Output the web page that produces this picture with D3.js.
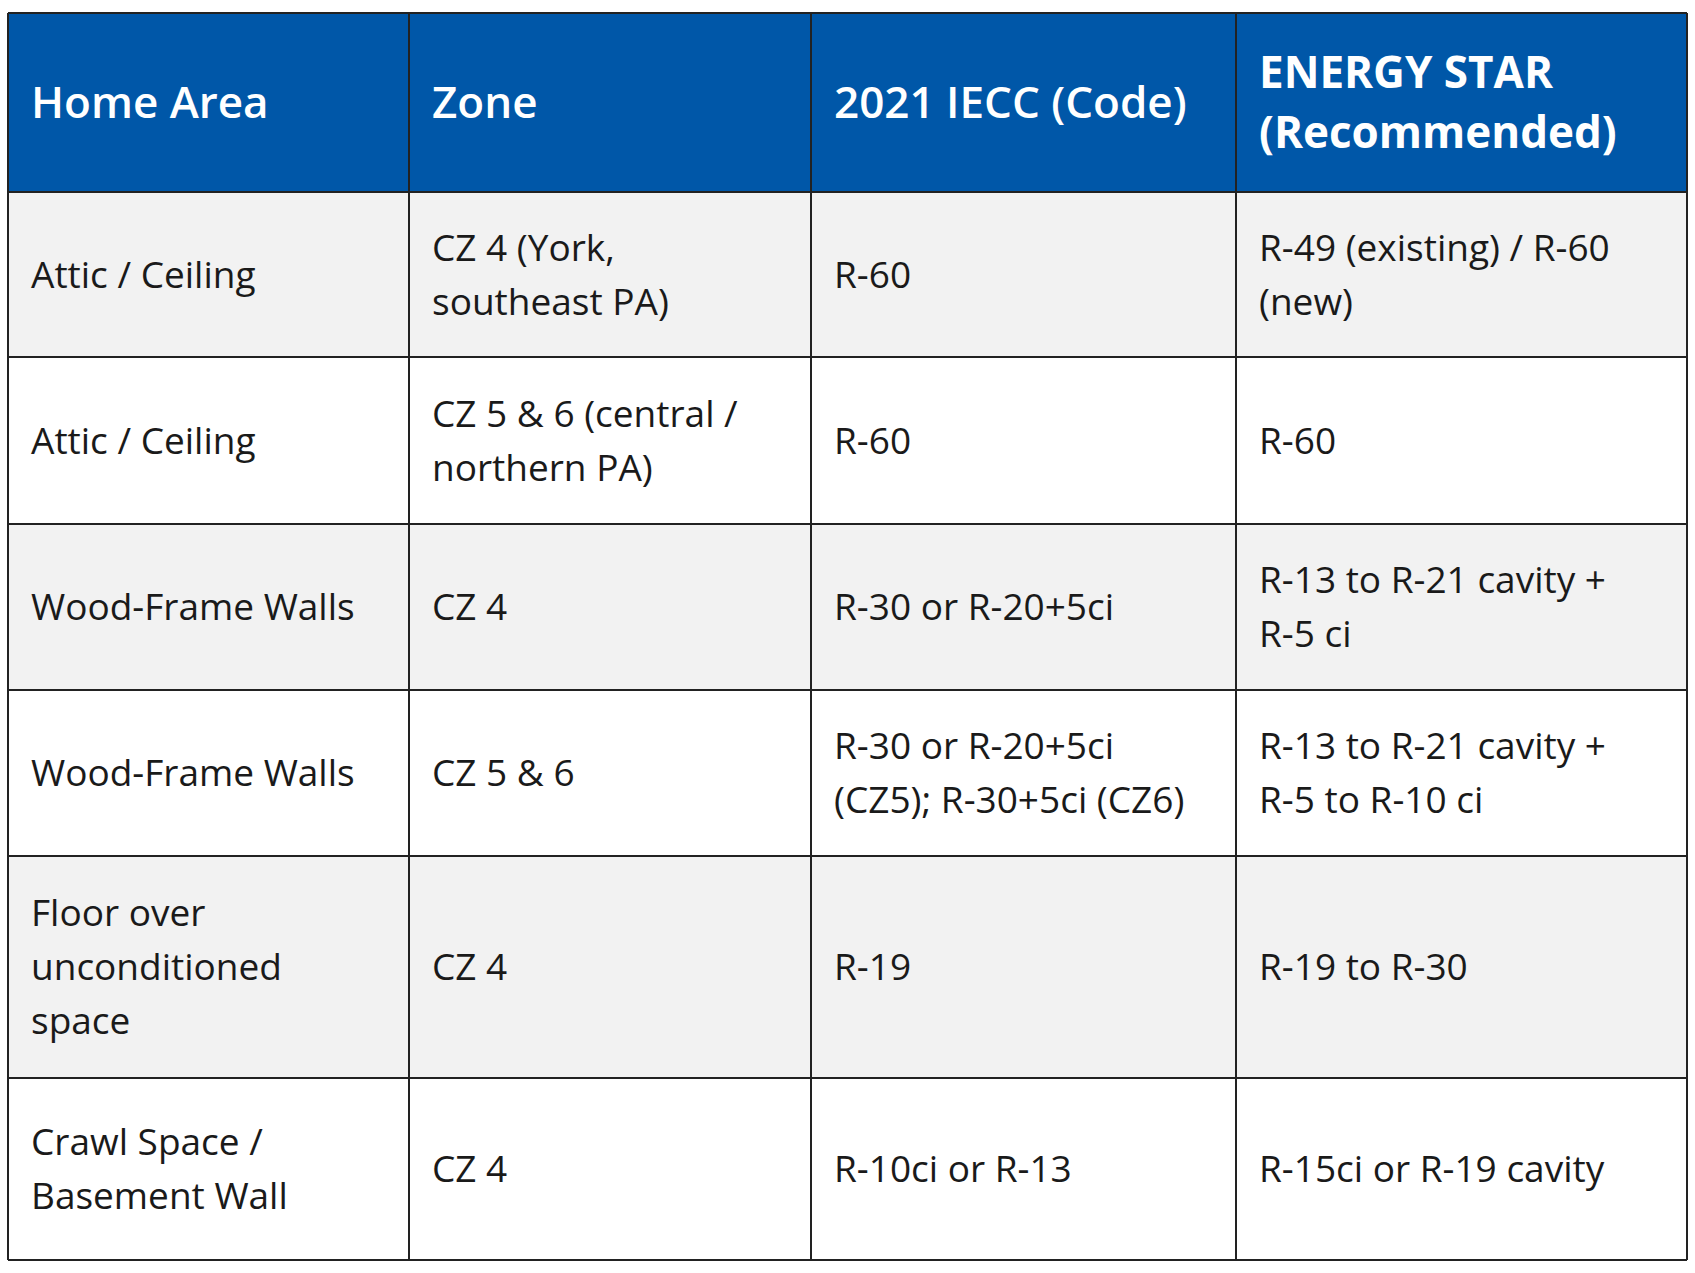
<!DOCTYPE html>
<html><head><meta charset="utf-8">
<script src="https://cdn.jsdelivr.net/npm/d3@7"></script>
<style>body{margin:0;background:#fff}</style>
</head><body><svg id="chart"></svg>
<script>
var headers = ["Home Area", "Zone", "2021 IECC (Code)", "ENERGY STAR\n(Recommended)"];
var homeArea = ["Attic / Ceiling", "Attic / Ceiling", "Wood-Frame Walls", "Wood-Frame Walls", "Floor over\nunconditioned\nspace", "Crawl Space /\nBasement Wall"];
var zone = ["CZ 4 (York,\nsoutheast PA)", "CZ 5 & 6 (central /\nnorthern PA)", "CZ 4", "CZ 5 & 6", "CZ 4", "CZ 4"];
var iecc = ["R-60", "R-60", "R-30 or R-20+5ci", "R-30 or R-20+5ci\n(CZ5); R-30+5ci (CZ6)", "R-19", "R-10ci or R-13"];
var energyStar = ["R-49 (existing) / R-60\n(new)", "R-60", "R-13 to R-21 cavity +\nR-5 ci", "R-13 to R-21 cavity +\nR-5 to R-10 ci", "R-19 to R-30", "R-15ci or R-19 cavity"];

var colEdges = [8, 409, 811, 1236, 1687];
var rowEdges = [13, 192, 357, 524, 690, 856, 1078, 1260];
var rows = homeArea.map(function (d, i) { return [d, zone[i], iecc[i], energyStar[i]]; });

var svg = d3.select("#chart").attr("width", 1695).attr("height", 1273)
    .style("font-family", "'Open Sans', sans-serif");

function cell(g, text, x, y0, y1, opts) {
    var lines = text.split("\n");
    var lh = opts.lh;
    var mid = (y0 + y1) / 2;
    var t = g.append("text").attr("x", x + 23)
        .attr("font-size", opts.size).attr("font-weight", opts.weight).attr("fill", opts.color);
    lines.forEach(function (l, k) {
        t.append("tspan").attr("x", x + 23)
            .attr("y", mid + (k - (lines.length - 1) / 2) * lh)
            .attr("dy", "0.36em").text(l);
    });
}

// header
svg.append("rect").attr("x", colEdges[0]).attr("y", rowEdges[0])
    .attr("width", colEdges[4] - colEdges[0]).attr("height", rowEdges[1] - rowEdges[0]).attr("fill", "#0057a8");
headers.forEach(function (h, j) {
    cell(svg, h, colEdges[j], rowEdges[0], rowEdges[1], { size: 44, weight: j === 3 ? 700 : 600, color: "#fff", lh: 60 });
});
rows.forEach(function (r, i) {
    var y0 = rowEdges[i + 1], y1 = rowEdges[i + 2];
    svg.append("rect").attr("x", colEdges[0]).attr("y", y0).attr("width", colEdges[4] - colEdges[0])
        .attr("height", y1 - y0).attr("fill", i % 2 === 0 ? "#f2f2f2" : "#ffffff");
    r.forEach(function (c, j) {
        cell(svg, c, colEdges[j], y0, y1, { size: 37, weight: 400, color: "#1a1a1a", lh: 54 });
    });
});
// grid
svg.selectAll("line.v").data(colEdges).enter().append("line")
    .attr("x1", function (d) { return d; }).attr("x2", function (d) { return d; })
    .attr("y1", rowEdges[0]).attr("y2", rowEdges[rowEdges.length - 1])
    .attr("stroke", "#222").attr("stroke-width", 2);
svg.selectAll("line.h").data(rowEdges).enter().append("line")
    .attr("y1", function (d) { return d; }).attr("y2", function (d) { return d; })
    .attr("x1", colEdges[0]).attr("x2", colEdges[4])
    .attr("stroke", "#222").attr("stroke-width", 2);
</script></body></html>
